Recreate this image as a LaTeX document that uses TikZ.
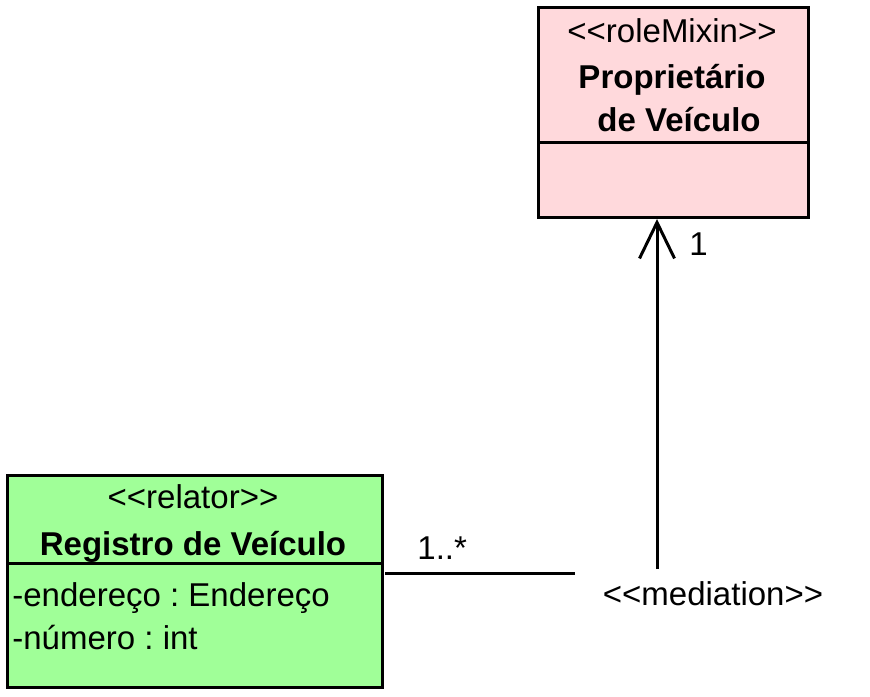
\documentclass[tikz,border=0pt]{standalone}
\usepackage{fontspec}
\setmainfont{Liberation Sans}[Ligatures=TeXOff]
\usetikzlibrary{arrows.meta}
\definecolor{pinkc}{HTML}{FFD9DC}
\definecolor{greenc}{HTML}{A0FF98}
\frenchspacing
\begin{document}
\begin{tikzpicture}[x=0.5pt,y=-0.5pt,
  classbox/.style={draw=black, line width=1.5pt, inner sep=0pt, anchor=north west},
  txt/.style={inner sep=0pt, anchor=base, font=\fontsize{16.5pt}{20pt}\selectfont},
  btxt/.style={txt, font=\fontsize{16.5pt}{20pt}\selectfont\bfseries},
  ltxt/.style={txt, anchor=base west},
  conn/.style={line width=1.5pt}]
\useasboundingbox (0,0) rectangle (870,696);
% Proprietario de Veiculo
\node[classbox, fill=pinkc, minimum width=135pt, minimum height=105pt] (owner) at (537,6) {};
\coordinate (ownl) at (537,142);
\coordinate (ownr) at (807,142);
\draw[conn] (ownl) -- (ownr);
\node[txt] (ownst) at (672,42) {<<roleMixin>>};
\node[btxt] (ownn1) at (672,88) {Proprietário};
\node[btxt] (ownn2) at (679,131) {de Veículo};
% Registro de Veiculo
\node[classbox, fill=greenc, minimum width=187.5pt, minimum height=106pt] (reg) at (6,474) {};
\coordinate (regl) at (6,563);
\coordinate (regr) at (381,563);
\draw[conn] (regl) -- (regr);
\node[txt] (regst) at (193,508) {<<relator>>};
\node[btxt] (regn) at (193,555) {Registro de Veículo};
\node[ltxt] (rega1) at (12,606) {-endereço : Endereço};
\node[ltxt] (rega2) at (12,649) {-número : int};
% mediation
\coordinate (hs) at (385,573);
\coordinate (he) at (575,573);
\draw[conn] (hs) -- (he);
\coordinate (vs) at (657,569);
\draw[conn, -{Straight Barb[length=18pt,width=17.5pt,line width=1.5pt]}] (vs) -- (vs |- owner.south);
\node[txt] (medl) at (713,605) {<<mediation>>};
\node[ltxt] (m1) at (689,255) {1};
\node[ltxt] (m2) at (417,559) {1..*};
\end{tikzpicture}
\end{document}
